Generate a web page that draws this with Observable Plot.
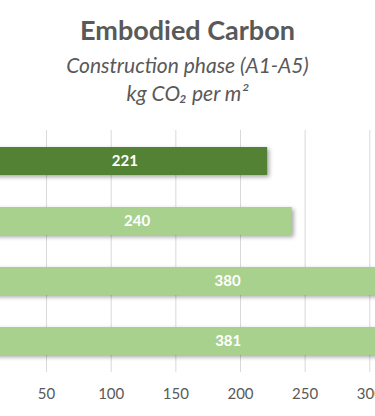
<!DOCTYPE html>
<html>
<head>
<meta charset="utf-8">
<script src="https://cdn.jsdelivr.net/npm/d3@7"></script>
<script src="https://cdn.jsdelivr.net/npm/@observablehq/plot@0.6"></script>
<style>
  html, body { margin: 0; padding: 0; background: #fff; }
  #wrap { width: 375px; height: 416px; position: relative; overflow: hidden; font-family: Lato, "Open Sans", sans-serif; }
  #head { position: relative; height: 120px; color: #595959; text-align: center; }
  #head div { position: absolute; left: 0; right: 0; white-space: nowrap; }
  #t1 { top: 13px; font-size: 27px; font-weight: 700; line-height: 34px; }
  #t2 { top: 52px; font-size: 21px; font-style: italic; line-height: 26px; }
  #t3 { top: 80px; font-size: 21px; font-style: italic; line-height: 26px; }
  #chart { position: absolute; top: 120px; left: 0; }
</style>
</head>
<body>
<div id="wrap">
  <div id="head">
    <div id="t1">Embodied Carbon</div>
    <div id="t2">Construction phase (A1-A5)</div>
    <div id="t3">kg CO₂ per m²</div>
  </div>
  <div id="chart"></div>
</div>
<script>
const categories = ["Option 1", "Option 2", "Option 3", "Option 4"];
const values = [221, 240, 380, 381];
const barColors = ["#548235", "#A9D18E", "#A9D18E", "#A9D18E"];
const tickValues = [50, 100, 150, 200, 250, 300];

const data = categories.map((c, i) => ({category: c, value: values[i], color: barColors[i]}));

const chart = Plot.plot({
  width: 375,
  height: 296,
  marginTop: 10,
  marginBottom: 44,
  marginLeft: 0,
  marginRight: 0,
  style: {fontFamily: "Lato, 'Open Sans', sans-serif", background: "#fff", overflow: "hidden"},
  x: {domain: [0, 300], range: [-18.6, 369.3]},
  y: {domain: categories, paddingInner: 0.54, paddingOuter: 0.27, axis: null},
  marks: [
    Plot.gridX(tickValues, {stroke: "#d9d9d9", strokeOpacity: 1, strokeWidth: 1}),
    Plot.axisX(tickValues, {tickSize: 0, tickPadding: 16, fontSize: 15, color: "#595959", fill: "#595959", label: null}),
    Plot.barX(data, {x: "value", y: "category", fill: "color"}),
    Plot.text(data, {x: d => d.value / 2, y: "category", text: d => String(d.value), fill: "#fff", fontWeight: "bold", fontSize: 15})
  ]
});
document.getElementById("chart").appendChild(chart);
d3.select(chart).selectAll("g[aria-label='bar']").style("filter", "drop-shadow(2px 2px 2px rgba(0,0,0,0.35))");
</script>
</body>
</html>
